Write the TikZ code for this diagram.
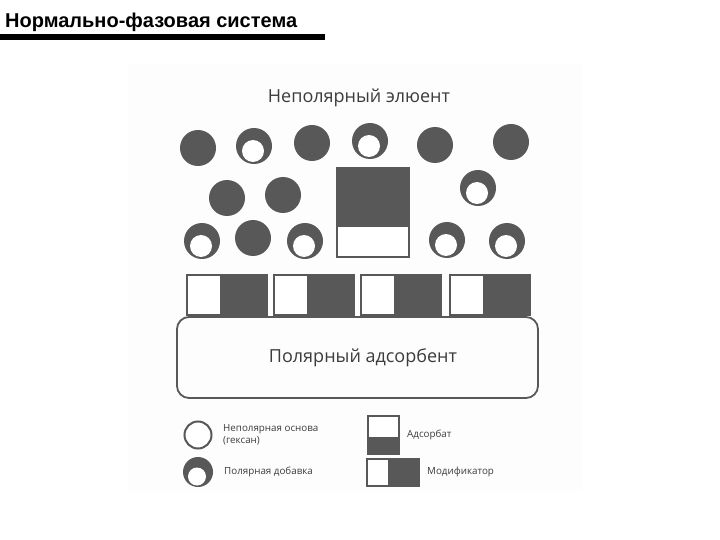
\documentclass[tikz,border=0pt]{standalone}
\usepackage{fontspec}
\setmainfont{Liberation Sans}
\newfontfamily\figfont{Open Sans}
\definecolor{dk}{RGB}{88,88,88}
\definecolor{tx}{RGB}{60,60,60}
\definecolor{bgc}{RGB}{253,253,253}
\tikzset{
  mol/.style={circle,fill=dk,minimum size=36pt,inner sep=0pt},
  polar/.style={mol,path picture={\fill[white] ([xshift=-1pt,yshift=-5pt]path picture bounding box.center) circle (11pt);}},
  modif/.style={rectangle,draw=dk,line width=1.2pt,fill=dk,minimum width=80pt,minimum height=40pt,inner sep=0pt,
    path picture={\fill[white] (path picture bounding box.north west) rectangle ([xshift=33pt]path picture bounding box.south west);}},
  lbl/.style={font=\figfont\fontsize{18}{21}\selectfont,text=tx},
  leg/.style={font=\figfont\fontsize{9.8}{12}\selectfont,text=tx,anchor=west,inner sep=0pt,align=left}
}
\begin{document}
\begin{tikzpicture}[x=1pt,y=-1pt]
\useasboundingbox (0,0) rectangle (720,540);
\fill[bgc] (128,64) rectangle (583,491);
% header
\node[anchor=base west,inner sep=0pt,font=\bfseries\fontsize{20}{24}\selectfont] (title) at (5,28) {Нормально-фазовая система};
\draw[line width=5.5pt] (0,37) -- (325,37);
% eluent label
\node[lbl] (eluent) at (359,98) {Неполярный элюент};
% row 1
\node[mol] (a1) at (198,148) {};
\node[polar] (a2) at (254,146) {};
\node[mol] (a3) at (312,143) {};
\node[polar] (a4) at (370,141) {};
\node[mol] (a5) at (435,145) {};
\node[mol] (a6) at (511,142) {};
% row 2
\node[mol] (b1) at (227,198) {};
\node[mol] (b2) at (283,195) {};
\node[polar] (b3) at (478,188) {};
% row 3
\node[polar] (c1) at (202,241) {};
\node[mol] (c2) at (253,238) {};
\node[polar] (c3) at (305,241) {};
\node[polar] (c4) at (447,240) {};
\node[polar] (c5) at (507,241) {};
% adsorbate box
\node[rectangle,draw=dk,line width=1.5pt,fill=white,minimum width=72pt,minimum height=89pt,inner sep=0pt,
  path picture={\fill[dk] (path picture bounding box.north west) rectangle ([yshift=-59pt]path picture bounding box.north east);}] (ads) at (373,212.5) {};
% modifier boxes
\node[modif] (m1) at (227,295) {};
\node[modif] (m2) at (314,295) {};
\node[modif] (m3) at (401,295) {};
\node[modif] (m4) at (490,295) {};
% adsorbent
\node[rectangle,rounded corners=12pt,draw=dk,line width=1.8pt,minimum width=361pt,minimum height=81pt,inner sep=0pt] (sorb) at (357.5,357.5) {};
\node[lbl] (sorbl) at (363,358) {Полярный адсорбент};
% legend
\node[circle,draw=dk,line width=2pt,fill=white,minimum size=27pt,inner sep=0pt] (lg1) at (198,435) {};
\node[circle,fill=dk,minimum size=30pt,inner sep=0pt,
  path picture={\fill[white] ([xshift=-1pt,yshift=-4.5pt]path picture bounding box.center) circle (9pt);}] (lg2) at (198,472) {};
\node[leg] (lt1) at (223,435) {Неполярная основа\\(гексан)};
\node[leg] (lt2) at (224,472) {Полярная добавка};
\node[rectangle,draw=dk,line width=1.2pt,fill=white,minimum width=31pt,minimum height=38pt,inner sep=0pt,
  path picture={\fill[dk] ([yshift=17pt]path picture bounding box.south west) rectangle (path picture bounding box.south east);}] (lg3) at (383.5,435) {};
\node[rectangle,draw=dk,line width=1.2pt,fill=dk,minimum width=52pt,minimum height=27pt,inner sep=0pt,
  path picture={\fill[white] (path picture bounding box.north west) rectangle ([xshift=21pt]path picture bounding box.south west);}] (lg4) at (393,472.5) {};
\node[leg] (lt3) at (407,435) {Адсорбат};
\node[leg] (lt4) at (427,472) {Модификатор};
\end{tikzpicture}
\end{document}
